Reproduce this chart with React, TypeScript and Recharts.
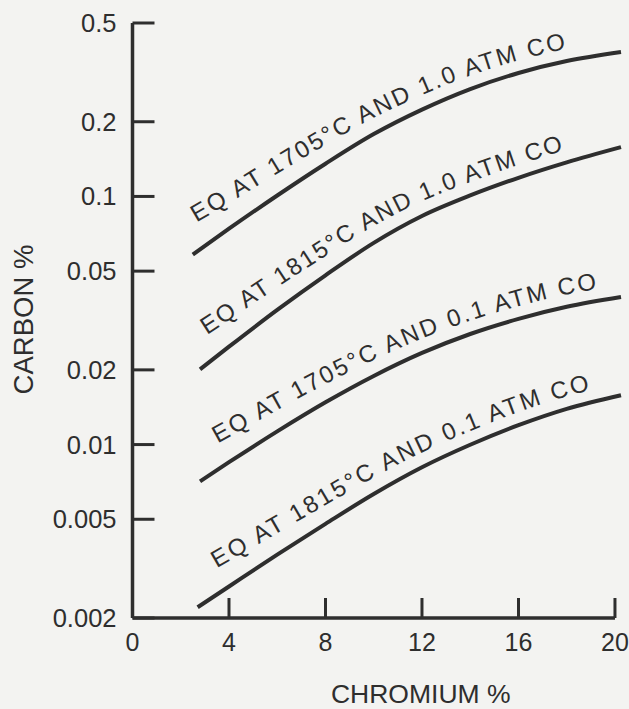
import React from 'react';
import { LineChart, Line, XAxis, YAxis, ReferenceLine, Label } from 'recharts';

// Chromium % (x) and carbon % (y)
const chromiumA = [2.5, 4, 6, 8, 10, 12, 14, 16, 18, 20.25];
const carbon1705at10 = [0.0583, 0.0741, 0.1009, 0.1355, 0.1784, 0.2239, 0.2709, 0.3144, 0.3512, 0.382];

const chromiumB = [2.8, 4, 6, 8, 10, 12, 14, 16, 18, 20.25];
const carbon1815at10 = [0.0201, 0.0248, 0.0349, 0.0481, 0.065, 0.0834, 0.1009, 0.1189, 0.1372, 0.158];

const chromiumC = [2.8, 4, 6, 8, 10, 12, 14, 16, 18, 20.25];
const carbon1705at01 = [0.00711, 0.00849, 0.0113, 0.0148, 0.0189, 0.0234, 0.0279, 0.0321, 0.0359, 0.0393];

const chromiumD = [2.7, 4, 6, 8, 10, 12, 14, 16, 18, 20.25];
const carbon1815at01 = [0.00221, 0.00268, 0.0036, 0.00479, 0.00632, 0.0081, 0.00998, 0.01197, 0.01393, 0.0158];

const seriesNames = [
  'EQ AT 1705°C AND 1.0 ATM CO',
  'EQ AT 1815°C AND 1.0 ATM CO',
  'EQ AT 1705°C AND 0.1 ATM CO',
  'EQ AT 1815°C AND 0.1 ATM CO',
];

const xTicks = [0, 4, 8, 12, 16, 20];
const yTicks = [0.002, 0.005, 0.01, 0.02, 0.05, 0.1, 0.2, 0.5];
const yTickLabels = ['0.002', '0.005', '0.01', '0.02', '0.05', '0.1', '0.2', '0.5'];
const xTitle = 'CHROMIUM %';
const yTitle = 'CARBON %';

const toRows = (xs: number[], ys: number[]) => xs.map((x, i) => ({ x, c: ys[i] }));

const INK = '#2e2e2e';
const FONT = '"Liberation Sans", Arial, Helvetica, sans-serif';

// perpendicular offset of the label baseline from the curve: larger near the start
const labelGap = (t: number) => 12 + 14 * Math.pow(1 - t, 3);

function offsetPts(p: number[][]) {
  const n = p.length;
  return p.map((pt, i) => {
    const a = p[Math.max(0, i - 1)];
    const b = p[Math.min(n - 1, i + 1)];
    const tx = b[0] - a[0];
    const ty = b[1] - a[1];
    const len = Math.hypot(tx, ty) || 1;
    const o = labelGap(i / (n - 1));
    return [pt[0] + (ty / len) * o, pt[1] - (tx / len) * o];
  });
}

function smoothD(p: number[][]) {
  let d = `M${p[0][0]},${p[0][1]}`;
  for (let i = 0; i < p.length - 1; i++) {
    const p0 = p[i - 1] || p[i];
    const p1 = p[i];
    const p2 = p[i + 1];
    const p3 = p[i + 2] || p2;
    const c1 = [p1[0] + (p2[0] - p0[0]) / 6, p1[1] + (p2[1] - p0[1]) / 6];
    const c2 = [p2[0] - (p3[0] - p1[0]) / 6, p2[1] - (p3[1] - p1[1]) / 6];
    d += ` C${c1[0]},${c1[1]} ${c2[0]},${c2[1]} ${p2[0]},${p2[1]}`;
  }
  return d;
}

function makeLabelDot(id: string, text: string, count: number, startOffset: number, textLength: number) {
  const pts: number[][] = [];
  return (props: any) => {
    const { cx, cy, index } = props;
    pts[index] = [cx, cy];
    if (index !== count - 1) return <g key={`${id}-d${index}`} />;
    const valid = pts.slice(0, count).filter((q) => q && isFinite(q[0]) && isFinite(q[1]));
    if (valid.length < 2) return <g key={`${id}-d${index}`} />;
    const d = smoothD(offsetPts(valid));
    return (
      <g key={`${id}-d${index}`}>
        <path id={id} d={d} fill="none" stroke="none" />
        <text fontSize={24} fill={INK} fontFamily={FONT}>
          <textPath href={`#${id}`} startOffset={startOffset} textLength={textLength} lengthAdjust="spacing">
            {text}
          </textPath>
        </text>
      </g>
    );
  };
}

const series = [
  { rows: toRows(chromiumA, carbon1705at10), so: 22, tl: 411 },
  { rows: toRows(chromiumB, carbon1815at10), so: 27, tl: 404 },
  { rows: toRows(chromiumC, carbon1705at01), so: 36, tl: 412 },
  { rows: toRows(chromiumD, carbon1815at01), so: 38, tl: 415 },
];

export default function App() {
  return (
    <div style={{ position: 'absolute', left: 0, top: 0, width: 629, height: 709, background: '#f3f3f1' }}>
      <LineChart width={629} height={709} margin={{ top: 23, right: 8, bottom: 61, left: 72.5 }}>
        <XAxis
          type="number"
          dataKey="x"
          domain={[0, 20.25]}
          ticks={xTicks}
          axisLine={false}
          tickSize={-20}
          tickMargin={35}
          tickLine={{ stroke: INK, strokeWidth: 3 }}
          tick={{ fill: INK, fontSize: 25, fontFamily: FONT }}
          height={30}
          interval={0}
        >
          <Label
            content={(p: any) => {
              const vb = p.viewBox || {};
              return (
                <text
                  x={vb.x + vb.width / 2 + 44}
                  y={694}
                  textAnchor="middle"
                  dominantBaseline="central"
                  fontSize={26.5}
                  fill={INK}
                  fontFamily={FONT}
                >
                  {xTitle}
                </text>
              );
            }}
          />
        </XAxis>
        <YAxis
          type="number"
          dataKey="c"
          scale="log"
          domain={[0.002, 0.5]}
          ticks={yTicks}
          tickFormatter={(v: number, i: number) => yTickLabels[i] ?? String(v)}
          axisLine={{ stroke: INK, strokeWidth: 3.5 }}
          tickSize={-22}
          tickMargin={38}
          tickLine={{ stroke: INK, strokeWidth: 3 }}
          tick={{ fill: INK, fontSize: 25.5, fontFamily: FONT }}
          width={60}
          interval={0}
        >
          <Label
            content={(p: any) => {
              const vb = p.viewBox || {};
              const cx = vb.x - 49;
              const cy = vb.y + vb.height / 2 - 1;
              return (
                <text
                  x={cx}
                  y={cy}
                  transform={`rotate(-90, ${cx}, ${cy})`}
                  textAnchor="middle"
                  dominantBaseline="central"
                  fontSize={27.5}
                  fill={INK}
                  fontFamily={FONT}
                >
                  {yTitle}
                </text>
              );
            }}
          />
        </YAxis>
        <ReferenceLine
          segment={[
            { x: 0, y: 0.002 },
            { x: 20, y: 0.002 },
          ]}
          stroke={INK}
          strokeWidth={3.5}
        />
        {series.map((s, k) => (
          <Line
            key={k}
            data={s.rows}
            dataKey="c"
            type="monotone"
            stroke={INK}
            strokeWidth={4}
            isAnimationActive={false}
            activeDot={false}
            dot={makeLabelDot(`lbl${k}`, seriesNames[k], s.rows.length, s.so, s.tl)}
          />
        ))}
      </LineChart>
    </div>
  );
}
